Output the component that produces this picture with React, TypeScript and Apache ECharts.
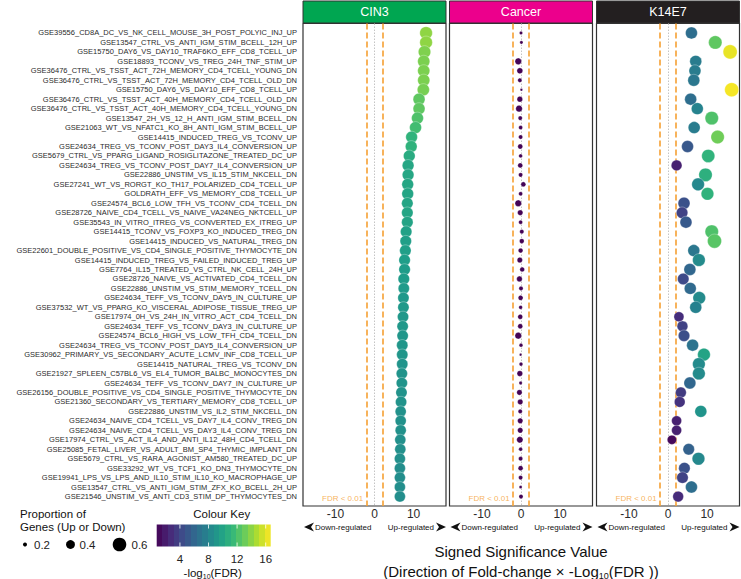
import React, { useEffect, useRef } from 'react';
import * as echarts from 'echarts';

const geneSets = [
  'GSE39556_CD8A_DC_VS_NK_CELL_MOUSE_3H_POST_POLYIC_INJ_UP',
  'GSE13547_CTRL_VS_ANTI_IGM_STIM_BCELL_12H_UP',
  'GSE15750_DAY6_VS_DAY10_TRAF6KO_EFF_CD8_TCELL_UP',
  'GSE18893_TCONV_VS_TREG_24H_TNF_STIM_UP',
  'GSE36476_CTRL_VS_TSST_ACT_72H_MEMORY_CD4_TCELL_YOUNG_DN',
  'GSE36476_CTRL_VS_TSST_ACT_72H_MEMORY_CD4_TCELL_OLD_DN',
  'GSE15750_DAY6_VS_DAY10_EFF_CD8_TCELL_UP',
  'GSE36476_CTRL_VS_TSST_ACT_40H_MEMORY_CD4_TCELL_OLD_DN',
  'GSE36476_CTRL_VS_TSST_ACT_40H_MEMORY_CD4_TCELL_YOUNG_DN',
  'GSE13547_2H_VS_12_H_ANTI_IGM_STIM_BCELL_DN',
  'GSE21063_WT_VS_NFATC1_KO_8H_ANTI_IGM_STIM_BCELL_UP',
  'GSE14415_INDUCED_TREG_VS_TCONV_UP',
  'GSE24634_TREG_VS_TCONV_POST_DAY3_IL4_CONVERSION_UP',
  'GSE5679_CTRL_VS_PPARG_LIGAND_ROSIGLITAZONE_TREATED_DC_UP',
  'GSE24634_TREG_VS_TCONV_POST_DAY7_IL4_CONVERSION_UP',
  'GSE22886_UNSTIM_VS_IL15_STIM_NKCELL_DN',
  'GSE27241_WT_VS_RORGT_KO_TH17_POLARIZED_CD4_TCELL_UP',
  'GOLDRATH_EFF_VS_MEMORY_CD8_TCELL_UP',
  'GSE24574_BCL6_LOW_TFH_VS_TCONV_CD4_TCELL_DN',
  'GSE28726_NAIVE_CD4_TCELL_VS_NAIVE_VA24NEG_NKTCELL_UP',
  'GSE35543_IN_VITRO_ITREG_VS_CONVERTED_EX_ITREG_UP',
  'GSE14415_TCONV_VS_FOXP3_KO_INDUCED_TREG_DN',
  'GSE14415_INDUCED_VS_NATURAL_TREG_DN',
  'GSE22601_DOUBLE_POSITIVE_VS_CD4_SINGLE_POSITIVE_THYMOCYTE_DN',
  'GSE14415_INDUCED_TREG_VS_FAILED_INDUCED_TREG_UP',
  'GSE7764_IL15_TREATED_VS_CTRL_NK_CELL_24H_UP',
  'GSE28726_NAIVE_VS_ACTIVATED_CD4_TCELL_DN',
  'GSE22886_UNSTIM_VS_STIM_MEMORY_TCELL_DN',
  'GSE24634_TEFF_VS_TCONV_DAY5_IN_CULTURE_UP',
  'GSE37532_WT_VS_PPARG_KO_VISCERAL_ADIPOSE_TISSUE_TREG_UP',
  'GSE17974_0H_VS_24H_IN_VITRO_ACT_CD4_TCELL_DN',
  'GSE24634_TEFF_VS_TCONV_DAY3_IN_CULTURE_UP',
  'GSE24574_BCL6_HIGH_VS_LOW_TFH_CD4_TCELL_DN',
  'GSE24634_TREG_VS_TCONV_POST_DAY5_IL4_CONVERSION_UP',
  'GSE30962_PRIMARY_VS_SECONDARY_ACUTE_LCMV_INF_CD8_TCELL_UP',
  'GSE14415_NATURAL_TREG_VS_TCONV_DN',
  'GSE21927_SPLEEN_C57BL6_VS_EL4_TUMOR_BALBC_MONOCYTES_DN',
  'GSE24634_TEFF_VS_TCONV_DAY7_IN_CULTURE_UP',
  'GSE26156_DOUBLE_POSITIVE_VS_CD4_SINGLE_POSITIVE_THYMOCYTE_DN',
  'GSE21360_SECONDARY_VS_TERTIARY_MEMORY_CD8_TCELL_UP',
  'GSE22886_UNSTIM_VS_IL2_STIM_NKCELL_DN',
  'GSE24634_NAIVE_CD4_TCELL_VS_DAY7_IL4_CONV_TREG_DN',
  'GSE24634_NAIVE_CD4_TCELL_VS_DAY3_IL4_CONV_TREG_DN',
  'GSE17974_CTRL_VS_ACT_IL4_AND_ANTI_IL12_48H_CD4_TCELL_DN',
  'GSE25085_FETAL_LIVER_VS_ADULT_BM_SP4_THYMIC_IMPLANT_DN',
  'GSE5679_CTRL_VS_RARA_AGONIST_AM580_TREATED_DC_UP',
  'GSE33292_WT_VS_TCF1_KO_DN3_THYMOCYTE_DN',
  'GSE19941_LPS_VS_LPS_AND_IL10_STIM_IL10_KO_MACROPHAGE_UP',
  'GSE13547_CTRL_VS_ANTI_IGM_STIM_ZFX_KO_BCELL_2H_UP',
  'GSE21546_UNSTIM_VS_ANTI_CD3_STIM_DP_THYMOCYTES_DN',
];

// Signed significance (x) per panel
const cin3X = [13.2, 13.2, 12.8, 12.6, 12.6, 12.6, 12.5, 11.4, 11.4, 11.0,
  10.5, 9.5, 9.4, 8.9, 8.6, 8.6, 8.5, 8.5, 8.4, 8.4,
  8.4, 8.1, 8.0, 7.9, 7.7, 7.7, 7.5, 7.5, 7.4, 7.4,
  7.3, 7.2, 7.2, 7.1, 7.1, 7.1, 7.0, 7.0, 6.9, 6.8,
  6.7, 6.7, 6.7, 6.6, 6.6, 6.5, 6.5, 6.5, 6.5, 6.5];
const cancerX = [0.0, 0.1, null, -0.7, -0.3, -0.3, 0.1, -0.3, -0.5, -0.2,
  -0.1, -0.1, -0.2, -0.1, -0.2, -0.1, 0.6, -0.1, -0.7, -0.2,
  -0.1, 0.2, 0.2, -0.1, -0.3, 0.3, -0.4, 0.0, -0.1, -0.1,
  -0.2, -0.2, -0.7, 0.0, -0.1, 0.0, -0.3, -0.1, -0.4, -0.2,
  -0.2, -0.2, -0.2, -0.3, -0.1, -0.1, -0.1, -0.1, -0.1, 0.0];
const k14e7X = [6.0, 12.1, 15.9, 7.1, 6.9, 6.6, 16.3, 5.8, 7.5, 11.2,
  6.7, 12.7, 5.0, 10.3, 2.2, 9.6, 7.7, 10.1, 4.1, 3.6,
  4.6, 11.2, 11.9, 6.6, 7.9, 5.6, 3.9, 5.7, 8.0, 7.1,
  2.8, 3.7, 4.1, 6.3, 9.2, 7.9, 7.9, 5.6, 3.3, 3.0,
  8.4, 2.2, 2.2, 1.0, 5.3, 7.8, 4.2, 3.7, 6.0, 2.6];

// -log10(FDR) (colour) per panel
const cin3Fdr = [14.0, 14.0, 13.6, 13.5, 13.5, 13.5, 13.4, 12.7, 12.7, 12.2,
  11.8, 11.1, 11.0, 10.5, 10.2, 10.2, 10.2, 10.1, 10.1, 10.1,
  10.0, 9.8, 9.7, 9.7, 9.6, 9.5, 9.5, 9.4, 9.3, 9.3,
  9.2, 9.2, 9.1, 9.1, 9.1, 9.0, 9.0, 9.0, 8.9, 8.9,
  8.8, 8.8, 8.8, 8.7, 8.7, 8.7, 8.6, 8.6, 8.6, 8.6];
const cancerFdr = [0.8, 0.8, null, 0.9, 0.8, 0.8, 0.8, 0.8, 0.9, 0.8,
  0.8, 0.8, 0.8, 0.8, 0.8, 0.8, 0.9, 0.8, 0.9, 0.8,
  0.8, 0.8, 0.8, 0.8, 0.8, 0.8, 0.8, 0.8, 0.8, 0.8,
  0.8, 0.8, 0.9, 0.8, 0.8, 0.8, 0.8, 0.8, 0.8, 0.8,
  0.8, 0.8, 0.8, 0.8, 0.8, 0.8, 0.8, 0.8, 0.8, 0.8];
const k14e7Fdr = [6.5, 12.7, 16.2, 7.4, 7.4, 7.1, 16.5, 6.5, 7.9, 12.2,
  7.4, 13.2, 5.1, 11.1, 2.2, 10.8, 8.2, 11.0, 4.7, 3.9,
  5.2, 12.2, 12.5, 7.1, 8.4, 6.0, 4.3, 6.2, 8.4, 7.8,
  2.8, 3.9, 4.6, 6.8, 10.0, 8.4, 8.4, 6.0, 3.5, 3.1,
  9.0, 2.2, 2.2, 1.1, 5.7, 8.2, 4.7, 3.9, 6.5, 2.7];

// Proportion of genes (up or down)
const cin3P = [0.56, 0.56, 0.55, 0.54, 0.54, 0.54, 0.54, 0.53, 0.53, 0.53,
  0.53, 0.52, 0.52, 0.52, 0.52, 0.52, 0.52, 0.52, 0.51, 0.51,
  0.51, 0.51, 0.51, 0.51, 0.51, 0.51, 0.51, 0.5, 0.5, 0.5,
  0.5, 0.5, 0.5, 0.5, 0.5, 0.5, 0.5, 0.5, 0.5, 0.5,
  0.49, 0.49, 0.49, 0.49, 0.49, 0.49, 0.49, 0.49, 0.49, 0.49];
const cancerP = [0.17, 0.17, null, 0.31, 0.28, 0.21, 0.14, 0.27, 0.31, 0.21,
  0.2, 0.21, 0.24, 0.19, 0.24, 0.21, 0.24, 0.2, 0.31, 0.26,
  0.2, 0.21, 0.23, 0.23, 0.26, 0.23, 0.27, 0.21, 0.24, 0.19,
  0.24, 0.24, 0.31, 0.19, 0.14, 0.19, 0.27, 0.17, 0.26, 0.26,
  0.21, 0.26, 0.26, 0.3, 0.19, 0.21, 0.24, 0.21, 0.16, 0.21];
const k14e7P = [0.53, 0.59, 0.62, 0.53, 0.53, 0.53, 0.62, 0.53, 0.53, 0.59,
  0.53, 0.59, 0.53, 0.58, 0.48, 0.59, 0.56, 0.56, 0.53, 0.51,
  0.53, 0.59, 0.62, 0.53, 0.56, 0.53, 0.51, 0.53, 0.56, 0.53,
  0.45, 0.48, 0.51, 0.53, 0.56, 0.56, 0.56, 0.53, 0.48, 0.48,
  0.53, 0.45, 0.45, 0.42, 0.51, 0.56, 0.51, 0.51, 0.53, 0.48];

const panelNames = ['CIN3', 'Cancer', 'K14E7'];
const panelX = [cin3X, cancerX, k14e7X];
const panelFdr = [cin3Fdr, cancerFdr, k14e7Fdr];
const panelP = [cin3P, cancerP, k14e7P];
const stripColors = ['#00A651', '#EC008C', '#231F20'];
const xTicks = [-10, 0, 10];
const fdrThreshold = 2; // -log10(0.01)
const sizeBreaks = [0.2, 0.4, 0.6];
const colourTicks = [4, 8, 12, 16];
const fdrMin = 0.75;
const fdrMax = 16.7;
const xLimit = 18.3;

const viridis = ['#440154', '#482878', '#3E4A89', '#31688E', '#26828E',
  '#1F9E89', '#35B779', '#6DCD59', '#B4DE2C', '#FDE725'];

const FONT = '"Liberation Sans", Arial, Helvetica, sans-serif';
const ORANGE = '#F5A033';
const TEXT = '#2b2b2b';

const sizeOf = (p: number) => Math.max(1.5, 24 * p - 0.8);

// layout
const PANEL_TOP = 23.5;
const PANEL_H = 482.5;
const PANEL_W = 143;
const PANEL_LEFTS = [303, 449.5, 596.5];

function buildOption() {
  const padded = ['', ...geneSets, ''];
  const grid: any[] = [];
  const xAxis: any[] = [];
  const yAxis: any[] = [];
  const series: any[] = [];
  const graphic: any[] = [];

  panelNames.forEach((name, i) => {
    const left = PANEL_LEFTS[i];
    grid.push({
      left, top: PANEL_TOP, width: PANEL_W, height: PANEL_H,
      show: true, borderColor: '#333', borderWidth: 1.2, backgroundColor: '#fff',
    });
    xAxis.push({
      gridIndex: i, type: 'value', min: -xLimit, max: xLimit,
      axisLine: { show: false }, splitLine: { show: false },
      axisTick: { show: false },
      axisLabel: { customValues: xTicks, fontSize: 12, color: TEXT, margin: 2, fontFamily: FONT },
    });
    yAxis.push({
      gridIndex: i, type: 'category', data: padded, boundaryGap: false, inverse: true,
      axisLine: { show: false }, axisTick: { show: false }, splitLine: { show: false },
      axisLabel: i === 0
        ? { show: true, interval: 0, fontSize: 7.5, color: TEXT, margin: 6, fontFamily: FONT }
        : { show: false },
    });
    const lineStyleDash = { color: ORANGE, type: [6, 3], width: 1.6 };
    series.push({
      type: 'scatter', xAxisIndex: i, yAxisIndex: i, silent: true, z: 2,
      symbolSize: 1, itemStyle: { color: 'rgba(0,0,0,0)' },
      data: [[-fdrThreshold, geneSets.length]],
      label: {
        show: true, position: 'left', distance: 3, offset: [0, 2],
        formatter: 'FDR < 0.01', color: ORANGE, fontSize: 8, fontFamily: FONT,
      },
      markLine: {
        silent: true, symbol: ['none', 'none'], label: { show: false },
        data: [
          { xAxis: 0, lineStyle: { color: '#c4c4c4', type: [1.5, 1.5], width: 1 } },
          { xAxis: -fdrThreshold, lineStyle: lineStyleDash },
          { xAxis: fdrThreshold, lineStyle: lineStyleDash },
        ],
      },
    });
    const xs = panelX[i];
    const fs = panelFdr[i];
    const ps = panelP[i];
    const data: any[] = [];
    xs.forEach((v, k) => {
      if (v === null || ps[k] === null || fs[k] === null) return;
      data.push([v, k + 1, ps[k], fs[k]]);
    });
    series.push({
      type: 'scatter', xAxisIndex: i, yAxisIndex: i, z: 10, name,
      data,
      symbolSize: (v: number[]) => sizeOf(v[2]),
      itemStyle: { borderColor: 'rgba(255,255,255,0.6)', borderWidth: 0.5, opacity: 1 },
    });

    // strip
    graphic.push({
      type: 'rect', shape: { x: left, y: 1, width: PANEL_W, height: PANEL_TOP - 1.5 },
      style: { fill: stripColors[i], stroke: '#333', lineWidth: 1 }, silent: true,
    });
    graphic.push({
      type: 'text', x: left + PANEL_W / 2, y: 1 + (PANEL_TOP - 1.5) / 2,
      style: { text: name, fill: '#fff', fontSize: 12.5, fontFamily: FONT, align: 'center', verticalAlign: 'middle' },
      silent: true,
    });
    // regulation direction labels
    const ay = 527;
    const right = left + PANEL_W;
    graphic.push({
      type: 'polygon', silent: true,
      shape: { points: [[left + 1, ay], [left + 11, ay - 4.5], [left + 8, ay], [left + 11, ay + 4.5]] },
      style: { fill: '#111' },
    });
    graphic.push({
      type: 'polygon', silent: true,
      shape: { points: [[right, ay], [right - 10, ay - 4.5], [right - 7, ay], [right - 10, ay + 4.5]] },
      style: { fill: '#111' },
    });
    graphic.push({
      type: 'text', x: left + 12, y: ay, silent: true,
      style: { text: 'Down-regulated', fill: '#111', fontSize: 8, fontFamily: FONT, align: 'left', verticalAlign: 'middle' },
    });
    graphic.push({
      type: 'text', x: right - 12, y: ay, silent: true,
      style: { text: 'Up-regulated', fill: '#111', fontSize: 8, fontFamily: FONT, align: 'right', verticalAlign: 'middle' },
    });
  });

  // axis title
  const midX = PANEL_LEFTS[1] + PANEL_W / 2;
  graphic.push({
    type: 'text', x: midX, y: 551, silent: true,
    style: { text: 'Signed Significance Value', fill: '#111', fontSize: 15, fontFamily: FONT, align: 'center', verticalAlign: 'middle' },
  });
  graphic.push({
    type: 'text', x: midX, y: 571, silent: true,
    style: {
      text: '{a|(Direction of Fold-change × -Log}{s|10}{a|(FDR ))}',
      align: 'center', verticalAlign: 'middle',
      rich: {
        a: { fontSize: 15, fontFamily: FONT, fill: '#111', lineHeight: 18 },
        s: { fontSize: 9, fontFamily: FONT, fill: '#111', verticalAlign: 'bottom', lineHeight: 12 },
      },
    },
  });

  // size legend
  graphic.push({
    type: 'text', x: 20, y: 514, silent: true,
    style: { text: 'Proportion of', fill: '#111', fontSize: 11.5, fontFamily: FONT, verticalAlign: 'middle' },
  });
  graphic.push({
    type: 'text', x: 20, y: 527, silent: true,
    style: { text: 'Genes (Up or Down)', fill: '#111', fontSize: 11.5, fontFamily: FONT, verticalAlign: 'middle' },
  });
  const sizeKeyX = [25, 70.5, 119.5];
  sizeBreaks.forEach((b, j) => {
    graphic.push({
      type: 'circle', silent: true,
      shape: { cx: sizeKeyX[j], cy: 544.5, r: sizeOf(b) / 2 },
      style: { fill: '#000' },
    });
    graphic.push({
      type: 'text', x: sizeKeyX[j] + 9 + (j === 2 ? 3 : 0), y: 544.5, silent: true,
      style: { text: b.toFixed(1), fill: '#222', fontSize: 11.5, fontFamily: FONT, verticalAlign: 'middle' },
    });
  });

  // colour key
  const barX = 156.7, barY = 524.5, barW = 114, barH = 22;
  const nbin = 20;
  const stops: any[] = [];
  for (let b = 0; b < nbin; b++) {
    const c = echarts.color.lerp((b + 0.5) / nbin, viridis) as string;
    stops.push({ offset: b / nbin, color: c });
    stops.push({ offset: (b + 1) / nbin, color: c });
  }
  graphic.push({
    type: 'text', x: barX + barW / 2 + 8, y: 514, silent: true,
    style: { text: 'Colour Key', fill: '#111', fontSize: 11.5, fontFamily: FONT, align: 'center', verticalAlign: 'middle' },
  });
  graphic.push({
    type: 'rect', silent: true,
    shape: { x: barX, y: barY, width: barW, height: barH },
    style: { fill: new echarts.graphic.LinearGradient(0, 0, 1, 0, stops) },
  });
  colourTicks.forEach((t) => {
    const tx = barX + ((t - fdrMin) / (fdrMax - fdrMin)) * barW;
    graphic.push({ type: 'line', silent: true, shape: { x1: tx, y1: barY, x2: tx, y2: barY + 4 }, style: { stroke: '#fff', lineWidth: 0.8 } });
    graphic.push({ type: 'line', silent: true, shape: { x1: tx, y1: barY + barH - 4, x2: tx, y2: barY + barH }, style: { stroke: '#fff', lineWidth: 0.8 } });
    graphic.push({
      type: 'text', x: tx, y: 559, silent: true,
      style: { text: String(t), fill: '#222', fontSize: 11.5, fontFamily: FONT, align: 'center', verticalAlign: 'middle' },
    });
  });
  graphic.push({
    type: 'text', x: barX + barW / 2 - 1, y: 573, silent: true,
    style: {
      text: '{a|-log}{s|10}{a|(FDR)}',
      align: 'center', verticalAlign: 'middle',
      rich: {
        a: { fontSize: 11.5, fontFamily: FONT, fill: '#111', lineHeight: 14 },
        s: { fontSize: 7, fontFamily: FONT, fill: '#111', verticalAlign: 'bottom', lineHeight: 9 },
      },
    },
  });

  return {
    animation: false,
    backgroundColor: '#fff',
    textStyle: { fontFamily: FONT },
    grid, xAxis, yAxis, series, graphic,
    visualMap: {
      type: 'continuous', show: false, dimension: 3, min: fdrMin, max: fdrMax,
      seriesIndex: [1, 3, 5], inRange: { color: viridis },
    },
  };
}

export default function App() {
  const ref = useRef<HTMLDivElement>(null);
  useEffect(() => {
    const chart = echarts.init(ref.current!, null, { renderer: 'svg' });
    chart.setOption(buildOption() as any);
    return () => chart.dispose();
  }, []);
  return <div ref={ref} style={{ position: 'fixed', left: 0, top: 0, width: 741, height: 579 }} />;
}
